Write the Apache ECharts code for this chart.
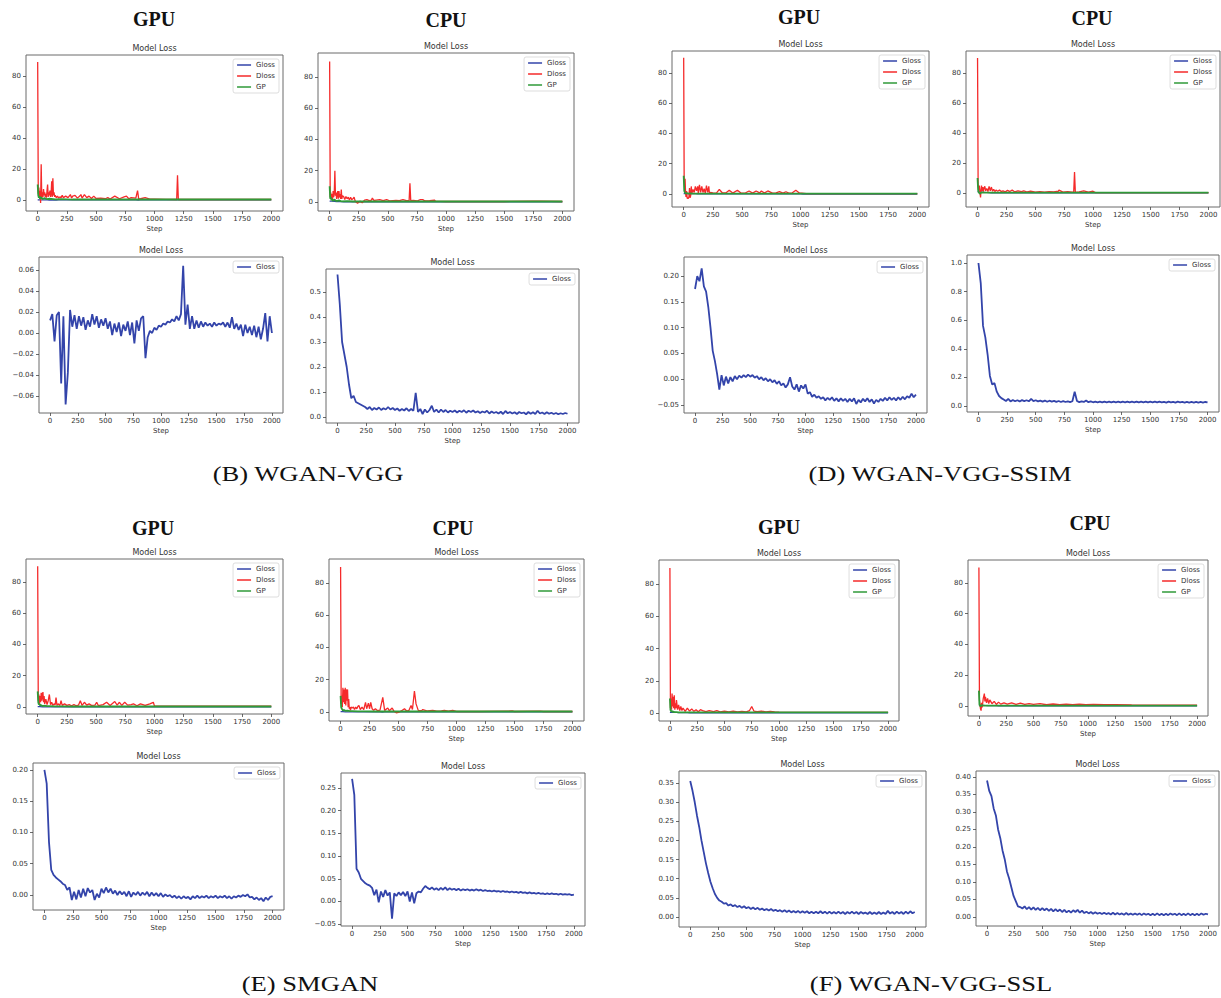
<!DOCTYPE html>
<html><head><meta charset="utf-8">
<script src="https://cdn.jsdelivr.net/npm/echarts@6/dist/echarts.min.js"></script>
<style>html,body{margin:0;padding:0;background:#fff;}#c{width:1221px;height:998px;}</style>
</head><body><div id="c"></div>
<script>
// ---------------- DATA ----------------
const panelLabels = ['(B) WGAN-VGG', '(D) WGAN-VGG-SSIM', '(E) SMGAN', '(F) WGAN-VGG-SSL'];
const deviceNames = ['GPU', 'CPU'];
const plotTitle = 'Model Loss';
const xAxisName = 'Step';
const seriesNames = ['Gloss', 'Dloss', 'GP'];
const xTickValues = [0, 250, 500, 750, 1000, 1250, 1500, 1750, 2000];
const yTicksTop = [0, 20, 40, 60, 80];
const yTicksB_GPU = [-0.06, -0.04, -0.02, 0, 0.02, 0.04, 0.06];
const yTicksB_CPU = [0, 0.1, 0.2, 0.3, 0.4, 0.5];
const yTicksD_GPU = [-0.05, 0, 0.05, 0.1, 0.15, 0.2];
const yTicksD_CPU = [0, 0.2, 0.4, 0.6, 0.8, 1.0];
const yTicksE_GPU = [0, 0.05, 0.1, 0.15, 0.2];
const yTicksE_CPU = [-0.05, 0, 0.05, 0.1, 0.15, 0.2, 0.25];
const yTicksF_GPU = [0, 0.05, 0.1, 0.15, 0.2, 0.25, 0.3, 0.35];
const yTicksF_CPU = [0, 0.05, 0.1, 0.15, 0.2, 0.25, 0.3, 0.35, 0.4];

// Gloss (generator loss) sampled every 20 steps
const glossSteps = [
0,20,40,60,80,100,120,140,160,180,
200,220,240,260,280,300,320,340,360,380,
400,420,440,460,480,500,520,540,560,580,
600,620,640,660,680,700,720,740,760,780,
800,820,840,860,880,900,920,940,960,980,
1000,1020,1040,1060,1080,1100,1120,1140,1160,1180,
1200,1220,1240,1260,1280,1300,1320,1340,1360,1380,
1400,1420,1440,1460,1480,1500,1520,1540,1560,1580,
1600,1620,1640,1660,1680,1700,1720,1740,1760,1780,
1800,1820,1840,1860,1880,1900,1920,1940,1960,1980,
2000];

const glossB_GPU = [
0.012,0.018,-0.008,0.017,0.02,-0.048,0.016,-0.068,-0.038,0.022,
0.006,0.017,0.004,0.016,0.007,0.015,0.003,0.012,0.006,0.018,
0.008,0.016,0.005,0.013,0.007,0.014,0.004,0.011,-0.002,0.009,
0.001,0.01,-0.003,0.008,0.002,0.011,-0.002,0.01,-0.01,0.012,
0.002,0.014,0.016,-0.024,-0.004,0.002,0.0,0.005,0.003,0.007,
0.006,0.009,0.008,0.011,0.01,0.013,0.011,0.016,0.012,0.018,
0.064,0.008,0.027,0.004,0.016,0.004,0.012,0.005,0.011,0.006,
0.01,0.007,0.009,0.006,0.01,0.007,0.009,0.008,0.01,0.006,
0.01,0.005,0.015,0.004,0.009,0.003,0.008,-0.003,0.008,0.0,
0.006,-0.002,0.007,-0.004,0.006,-0.006,0.004,0.019,-0.008,0.016,
0.0];

const glossB_CPU = [
0.57,0.45,0.3,0.25,0.2,0.13,0.075,0.085,0.06,0.055,
0.05,0.045,0.04,0.032,0.04,0.028,0.036,0.03,0.038,0.028,
0.035,0.03,0.04,0.03,0.036,0.028,0.034,0.025,0.032,0.026,
0.035,0.024,0.032,0.025,0.097,0.02,0.032,0.012,0.03,0.018,
0.028,0.045,0.02,0.03,0.018,0.03,0.02,0.028,0.018,0.025,
0.02,0.026,0.018,0.025,0.02,0.027,0.017,0.025,0.02,0.026,
0.018,0.023,0.016,0.022,0.018,0.025,0.014,0.022,0.016,0.02,
0.014,0.021,0.012,0.024,0.015,0.02,0.014,0.019,0.012,0.02,
0.015,0.018,0.011,0.02,0.013,0.019,0.012,0.025,0.014,0.018,
0.012,0.019,0.013,0.017,0.012,0.016,0.011,0.015,0.012,0.016,
0.013];

const glossD_GPU = [
0.175,0.2,0.19,0.215,0.18,0.17,0.14,0.1,0.055,0.035,
0.01,-0.02,0.008,-0.012,0.005,-0.008,0.004,-0.004,0.006,0.0,
0.007,0.003,0.008,0.004,0.009,0.005,0.008,0.003,0.006,0.0,
0.004,-0.002,0.002,-0.004,0.0,-0.006,-0.002,-0.009,-0.004,-0.012,
-0.008,-0.016,-0.01,0.004,-0.014,-0.02,-0.01,-0.024,-0.012,-0.018,
-0.01,-0.028,-0.025,-0.034,-0.03,-0.036,-0.033,-0.038,-0.035,-0.041,
-0.036,-0.04,-0.035,-0.042,-0.037,-0.043,-0.037,-0.042,-0.038,-0.044,
-0.038,-0.043,-0.037,-0.048,-0.04,-0.045,-0.038,-0.043,-0.037,-0.044,
-0.039,-0.047,-0.04,-0.044,-0.038,-0.042,-0.036,-0.041,-0.035,-0.04,
-0.036,-0.041,-0.035,-0.04,-0.034,-0.039,-0.033,-0.036,-0.028,-0.035,
-0.03];

const glossD_CPU = [
1.0,0.86,0.56,0.48,0.36,0.21,0.15,0.16,0.1,0.07,
0.055,0.045,0.035,0.05,0.032,0.042,0.033,0.04,0.032,0.041,
0.034,0.04,0.033,0.05,0.034,0.04,0.032,0.038,0.031,0.038,
0.03,0.037,0.031,0.036,0.029,0.035,0.028,0.034,0.028,0.033,
0.027,0.033,0.1,0.035,0.027,0.032,0.028,0.038,0.027,0.032,
0.026,0.031,0.026,0.03,0.025,0.031,0.026,0.03,0.025,0.031,
0.026,0.03,0.025,0.03,0.026,0.031,0.025,0.03,0.026,0.031,
0.025,0.03,0.026,0.031,0.025,0.03,0.026,0.031,0.025,0.03,
0.025,0.029,0.024,0.03,0.025,0.029,0.024,0.03,0.025,0.029,
0.024,0.029,0.024,0.028,0.024,0.029,0.024,0.028,0.024,0.028,
0.025];

const glossE_GPU = [
0.2,0.178,0.085,0.04,0.032,0.028,0.025,0.022,0.018,0.016,
0.008,0.012,-0.008,0.005,-0.007,0.008,-0.004,0.01,-0.002,0.011,
0.004,0.008,-0.008,0.002,-0.004,0.01,0.003,0.012,0.004,0.01,
0.002,0.007,0.0,0.006,0.001,0.005,-0.002,0.006,-0.003,0.004,
0.0,0.005,-0.001,0.004,0.0,0.005,-0.002,0.004,-0.001,0.003,
-0.002,0.003,-0.003,0.001,-0.002,0.0,-0.004,-0.001,-0.005,-0.002,
-0.006,-0.002,-0.005,-0.003,-0.007,-0.002,-0.005,-0.001,-0.005,-0.002,
-0.004,-0.001,-0.005,-0.002,-0.004,-0.001,-0.005,-0.002,-0.004,-0.001,
-0.005,-0.002,-0.006,-0.002,-0.004,-0.001,-0.003,0.0,-0.002,0.001,
-0.004,-0.003,-0.007,-0.004,-0.008,-0.005,-0.01,-0.004,-0.008,-0.003,
-0.002];

const glossE_CPU = [
0.27,0.235,0.072,0.064,0.05,0.045,0.04,0.037,0.035,0.03,
0.014,0.026,-0.002,0.022,0.01,0.025,0.013,0.02,-0.038,0.018,
0.012,0.02,0.014,0.021,0.012,0.022,0.0,0.02,-0.004,0.018,
0.022,0.02,0.028,0.034,0.03,0.027,0.031,0.026,0.029,0.025,
0.03,0.026,0.031,0.025,0.029,0.026,0.028,0.025,0.028,0.024,
0.027,0.025,0.027,0.024,0.026,0.024,0.027,0.024,0.026,0.023,
0.025,0.023,0.024,0.022,0.024,0.022,0.023,0.021,0.023,0.021,
0.022,0.02,0.022,0.02,0.021,0.019,0.021,0.019,0.02,0.018,
0.02,0.018,0.019,0.017,0.019,0.017,0.018,0.016,0.018,0.016,
0.018,0.016,0.017,0.015,0.017,0.015,0.016,0.015,0.016,0.014,
0.015];

const glossF_GPU = [
0.355,0.33,0.3,0.265,0.235,0.2,0.17,0.14,0.115,0.092,
0.075,0.06,0.05,0.043,0.04,0.035,0.036,0.03,0.033,0.028,
0.031,0.026,0.029,0.024,0.028,0.023,0.026,0.021,0.025,0.02,
0.024,0.019,0.022,0.018,0.021,0.017,0.021,0.016,0.019,0.015,
0.018,0.014,0.018,0.013,0.017,0.012,0.016,0.012,0.016,0.011,
0.015,0.011,0.015,0.01,0.014,0.01,0.014,0.01,0.015,0.01,
0.014,0.009,0.014,0.009,0.013,0.009,0.014,0.009,0.013,0.008,
0.013,0.009,0.014,0.009,0.013,0.008,0.013,0.009,0.012,0.008,
0.013,0.008,0.012,0.008,0.013,0.008,0.012,0.008,0.016,0.009,
0.013,0.008,0.014,0.009,0.013,0.008,0.014,0.009,0.015,0.01,
0.013];

const glossF_CPU = [
0.39,0.36,0.345,0.31,0.29,0.25,0.225,0.19,0.165,0.13,
0.11,0.085,0.06,0.045,0.03,0.028,0.024,0.03,0.022,0.028,
0.021,0.027,0.02,0.026,0.019,0.025,0.019,0.024,0.017,0.023,
0.016,0.022,0.016,0.021,0.014,0.02,0.013,0.018,0.012,0.019,
0.014,0.02,0.012,0.018,0.011,0.015,0.01,0.014,0.009,0.013,
0.009,0.012,0.008,0.012,0.008,0.011,0.007,0.012,0.007,0.011,
0.007,0.01,0.006,0.011,0.006,0.01,0.006,0.01,0.006,0.01,
0.005,0.01,0.006,0.009,0.005,0.009,0.005,0.01,0.005,0.009,
0.005,0.009,0.005,0.01,0.006,0.009,0.005,0.01,0.005,0.009,
0.005,0.01,0.005,0.009,0.005,0.009,0.005,0.01,0.006,0.009,
0.007];

// Dloss (discriminator loss): steps and values per plot
const dStepsB_GPU = [
0,5,10,15,20,25,30,35,40,45,
50,55,60,65,70,75,80,85,90,95,
100,105,110,115,120,125,130,135,140,145,
150,160,170,180,190,200,210,220,240,260,
280,290,300,320,340,360,370,380,400,420,
440,460,480,500,540,580,600,620,660,700,
740,760,780,800,840,855,865,880,920,960,
1000,1100,1190,1197,1204,1300,1500,1750,1900,2000];
const dlossB_GPU = [
89,4,8,2,6,-2,23,1,5,2,
7,3,5,2,4,1.5,6,10,2,5,
3,6,2,4,12,2,14,3,5,2,
3,1.5,2.5,1.2,2,1.5,3,1.5,2.5,1.5,
3.5,1.2,2.5,3,1.2,2.5,3.5,1.2,3.5,1.5,
2.5,1,2.5,1,1.2,0.8,1.5,0.6,2.5,0.8,
2,2.5,0.8,1.5,1.2,6,0.6,0.8,1.5,0.5,
0.5,0.4,0.3,16,0.3,0.3,0.3,0.3,0.3,0.3];

const dStepsB_CPU = [
0,5,10,15,20,25,30,35,40,45,
50,55,60,65,70,75,80,85,90,95,
100,105,110,120,130,140,150,160,170,180,
190,200,210,220,240,260,280,300,320,340,
360,367,380,400,430,460,490,520,570,600,
630,660,683,690,697,720,750,780,800,820,
860,900,910,950,1000,1200,1500,1750,1800,2000];
const dlossB_CPU = [
90,3,6,2,5,1,7,3,6,20,
4,6,2,5,7,2,7,3,5,2,
8,2,4,3.5,1.5,3.5,2,3,1.2,3,
1.5,2,3,0.5,-0.8,0.5,-0.5,1.2,1.5,0.8,
1.2,2.5,1,1.2,1.5,0.8,1.5,0.6,1,0.8,
1.5,0.8,0.8,12,0.8,1,0.6,1.5,1.5,0.6,
0.8,1.2,0.5,0.4,0.3,0.3,0.3,0.5,0.5,0.3];

const dStepsD_GPU = [
0,4,8,12,16,20,25,30,35,40,
45,50,55,60,65,70,80,90,100,110,
120,125,135,145,155,165,175,185,195,205,
215,220,230,250,280,305,330,360,390,420,
460,490,530,560,590,620,650,665,690,720,
760,790,820,850,875,900,930,960,990,1050,
1200,1500,1800,2000];
const dlossD_GPU = [
90,12,3,10,1,-2,2,-3,-2.5,-3,
-2,4,-2.5,-1,5,0.5,3,1,5,2,
5,0.5,6,1,5,1,3.5,0.5,5.5,1,
5,0.6,1,0.8,0.6,3,0.8,0.7,2.5,0.6,
2.5,0.6,0.8,2,0.6,2,0.7,2,0.6,2,
0.6,0.8,1.5,0.6,1.5,0.6,0.8,2.5,0.7,0.3,
0.3,0.3,0.3,0.3];

const dStepsD_CPU = [
0,5,10,15,20,26,30,34,40,45,
50,55,63,70,80,90,100,110,120,130,
140,150,160,175,190,205,220,240,260,280,
300,320,350,380,400,430,460,500,540,580,
620,660,700,705,740,780,820,833,840,847,
880,920,960,1000,1020,1100,1400,1700,2000];
const dlossD_CPU = [
90,6,2,5,1,-3,2,5,1.5,4,
1,3,4.5,1.5,3,1,4.5,1.5,4,1.2,
2.5,1,2,1.2,2,1,1.5,0.8,1.8,1,
2,0.8,1.5,1,1.5,0.7,1.2,0.6,1,0.6,
1,0.8,1.2,2,0.6,1,0.6,0.6,14,0.5,
0.8,1.5,0.6,1.2,0.3,0.3,0.3,0.3,0.3];

const dStepsE_GPU = [
0,5,10,15,20,25,30,35,40,45,
50,55,60,70,80,90,100,110,120,130,
140,150,157,165,175,190,200,210,230,250,
270,290,310,330,350,365,380,400,420,440,
460,490,505,520,560,590,620,660,680,700,
720,745,770,800,820,850,880,920,960,990,
1000,1100,1300,1500,1700,1800,2000];
const dlossE_GPU = [
90,4,8,2,7,3,9,4,8,9.5,
3,7,2,5,1.5,4,8,1.5,3,1,
2,1.5,6,1,2,1,4,1,2,1,
1.5,0.8,1.5,0.8,1.2,4,1,3,1.2,2,
1,1.2,3,0.8,1.5,3,1,3.5,1.2,3,
1,3,1.2,1.5,2,0.8,2,1,2,3,
0.5,0.5,0.5,0.5,0.6,0.5,0.5];

const dStepsE_CPU = [
0,5,10,15,20,25,30,35,40,45,
50,55,60,65,70,75,80,85,90,100,
110,120,130,140,150,158,170,185,200,215,
225,240,250,260,272,285,300,320,340,364,
380,407,420,445,460,480,500,520,551,570,
590,608,620,637,651,670,700,709,750,795,
830,870,895,930,967,1000,1200,1480,1500,1720,
1750,2000];
const dlossE_CPU = [
90,5,10,3,15,6,14,5,15,4,
14,7,14,3,8,2,3,1,3,2.5,
3,1.5,3,2,3.5,4,1.5,3,1.5,6,
2,5.5,2,6,2,1,2,0.8,1.2,9,
1,2.5,0.8,2.5,0.5,-0.5,-0.3,0.5,2,0.6,
1,4,1.5,13,5,1,0.8,1.5,0.6,1,
0.5,0.6,1,0.5,1,0.3,0.3,0.6,0.3,0.5,
0.3,0.3];

const dStepsF_GPU = [
0,5,10,15,20,25,30,35,40,45,
50,55,60,70,80,90,100,110,120,140,
160,180,200,220,240,260,280,300,330,360,
400,430,460,500,540,580,620,660,700,730,
750,770,800,840,880,920,960,1000,1200,1500,
1800,2000];
const dlossF_GPU = [
90,3,9,2,12,4,10,3,11,2,
6,3,8,2,5,1.5,4,1.5,3,1,
3,1.2,2.5,1,2,0.8,2,1.5,0.8,1.5,
0.8,1.5,0.7,1.2,0.7,1.2,0.6,1,0.7,1.5,
4,1.2,0.8,1.2,0.6,1,0.6,0.5,0.4,0.4,
0.4,0.4];

const dStepsF_CPU = [
0,5,10,15,20,25,30,40,50,55,
60,70,80,90,100,120,140,160,180,200,
230,260,300,340,380,420,460,500,560,620,
680,740,800,860,920,980,1050,1150,1250,1400,
1600,1800,2000];
const dlossF_CPU = [
90,4,1,-2,-3,2,-1,5,8,3,
6,2,5,1.5,4,1.5,3,1,2.5,1.2,
2,1.2,2,1,1.8,1,1.5,1,1.5,0.8,
1.3,0.8,1.2,0.8,1.2,0.8,1,0.8,0.9,0.7,
0.6,0.6,0.6];

// GP (gradient penalty)
const gpSteps = [0,5,10,15,20,30,40,60,80,100,150,200,300,500,750,1000,1250,1500,1750,2000];
const gpB_GPU = [10,3,1.5,2.5,0.8,1.8,0.6,1.2,0.5,0.8,0.4,0.5,0.3,0.3,0.3,0.3,0.3,0.3,0.3,0.3];
const gpB_CPU = [10,2,3,1,2,0.6,1.5,0.5,1,0.4,0.5,0.3,0.3,0.3,0.3,0.3,0.3,0.3,0.3,0.3];
const gpD_GPU = [12,2,1,0.5,0.3,0.5,0.3,0.4,0.3,0.3,0.3,0.3,0.3,0.3,0.3,0.3,0.3,0.3,0.3,0.3];
const gpD_CPU = [10,2,0.5,0.3,-0.5,0.3,0.4,0.3,0.3,0.3,0.3,0.3,0.3,0.3,0.3,0.3,0.3,0.3,0.3,0.3];
const gpE_GPU = [10,3,1.5,2,1,1.2,0.6,0.8,0.5,0.5,0.4,0.4,0.3,0.3,0.3,0.3,0.3,0.3,0.3,0.3];
const gpE_CPU = [10,3,2,1.5,1,1.2,0.7,0.8,0.5,0.5,0.4,0.4,0.3,0.3,0.3,0.3,0.3,0.3,0.3,0.3];
const gpF_GPU = [9,2,1,1.5,0.6,0.8,0.5,0.5,0.4,0.4,0.3,0.3,0.3,0.3,0.3,0.3,0.3,0.3,0.3,0.3];
const gpF_CPU = [10,1,0.4,-0.5,0.3,0.5,0.3,0.3,0.3,0.3,0.3,0.3,0.3,0.3,0.3,0.3,0.3,0.3,0.3,0.3];

// ---------------- LAYOUT ----------------
const W = 1221;
const plots = [
 {box:[26,55,257,156],  y:[-7.1,93.5],  kind:'top', gloss:glossB_GPU, dS:dStepsB_GPU, dV:dlossB_GPU, gp:gpB_GPU},
 {box:[39,257,244,156], y:[-0.0762,0.0724], kind:'bot', gloss:glossB_GPU, ticks:yTicksB_GPU, dig:2},
 {box:[318,53,256,158], y:[-5.8,95.4],  kind:'top', gloss:glossB_CPU, dS:dStepsB_CPU, dV:dlossB_CPU, gp:gpB_CPU},
 {box:[326,269,253,154], y:[-0.024,0.592], kind:'bot', gloss:glossB_CPU, ticks:yTicksB_CPU, dig:1},
 {box:[672,51,257,156], y:[-8.6,94.5],  kind:'top', gloss:glossD_GPU, dS:dStepsD_GPU, dV:dlossD_GPU, gp:gpD_GPU},
 {box:[684,257,243,156], y:[-0.0655,0.237], kind:'bot', gloss:glossD_GPU, ticks:yTicksD_GPU, dig:2},
 {box:[966,51,254,156], y:[-9.3,94.7],  kind:'top', gloss:glossD_CPU, dS:dStepsD_CPU, dV:dlossD_CPU, gp:gpD_CPU},
 {box:[967,255,252,157], y:[-0.042,1.056], kind:'bot', gloss:glossD_CPU, ticks:yTicksD_CPU, dig:1},
 {box:[26,559,257,155], y:[-4.5,94.7],  kind:'top', gloss:glossE_GPU, dS:dStepsE_GPU, dV:dlossE_GPU, gp:gpE_GPU},
 {box:[33,763,251,147], y:[-0.024,0.211], kind:'bot', gloss:glossE_GPU, ticks:yTicksE_GPU, dig:2},
 {box:[329,559,255,162], y:[-5.6,94.9], kind:'top', gloss:glossE_CPU, dS:dStepsE_CPU, dV:dlossE_CPU, gp:gpE_CPU},
 {box:[341,773,244,153], y:[-0.054,0.283], kind:'bot', gloss:glossE_CPU, ticks:yTicksE_CPU, dig:2},
 {box:[659,560,240,161], y:[-5,95],     kind:'top', gloss:glossF_GPU, dS:dStepsF_GPU, dV:dlossF_GPU, gp:gpF_GPU},
 {box:[679,771,247,156], y:[-0.026,0.381], kind:'bot', gloss:glossF_GPU, ticks:yTicksF_GPU, dig:2},
 {box:[968,560,240,156], y:[-6.5,94.8], kind:'top', gloss:glossF_CPU, dS:dStepsF_CPU, dV:dlossF_CPU, gp:gpF_CPU},
 {box:[976,771,243,155], y:[-0.026,0.417], kind:'bot', gloss:glossF_CPU, ticks:yTicksF_CPU, dig:2}
];
const headers = [
 [0,154,19],[1,446,20],[0,799,17],[1,1092,18],
 [0,153,528],[1,453,528],[0,779,527],[1,1090,523]
];
const labelPos = [[308,474],[940,474],[310,984],[931,984]];

const SANS = '"DejaVu Sans", sans-serif';
const SERIF = '"Liberation Serif", "Times New Roman", serif';
const C_G = '#3344aa', C_D = '#f52a2a', C_P = '#2f9a38';

function zip(xs, ys){ const n = Math.min(xs.length, ys.length); const out=[]; for(let i=0;i<n;i++) out.push([xs[i], ys[i]]); return out; }
function fmt(v, d){ const s = Math.abs(v).toFixed(d); return (v < -1e-12 ? '\u2212' : '') + s; }

const grids=[], xAxes=[], yAxes=[], series=[], legends=[], graphics=[];
plots.forEach((p, i) => {
  const [l,t,w,h] = p.box;
  grids.push({left:l, top:t, width:w, height:h, show:true, borderColor:'#6a6a6a', borderWidth:1, backgroundColor:'#fff'});
  xAxes.push({type:'value', gridIndex:i, min:-100, max:2100, position:'bottom',
    name:xAxisName, nameLocation:'middle', nameGap:14,
    nameTextStyle:{fontSize:7, color:'#333', fontFamily:SANS},
    axisLine:{show:false, onZero:false}, splitLine:{show:false},
    axisTick:{show:true, length:3, lineStyle:{color:'#444', width:0.8}, customValues:xTickValues},
    axisLabel:{fontSize:7, color:'#333', fontFamily:SANS, margin:4, customValues:xTickValues, formatter:v=>String(v)}});
  const yt = p.kind === 'top' ? yTicksTop : p.ticks;
  const dig = p.kind === 'top' ? 0 : p.dig;
  yAxes.push({type:'value', gridIndex:i, min:p.y[0], max:p.y[1], position:'left',
    axisLine:{show:false, onZero:false}, splitLine:{show:false},
    axisTick:{show:true, length:3, lineStyle:{color:'#444', width:0.8}, customValues:yt},
    axisLabel:{fontSize:7, color:'#333', fontFamily:SANS, margin:5, customValues:yt, formatter:v=>fmt(v, dig)}});
  series.push({type:'line', name:seriesNames[0], xAxisIndex:i, yAxisIndex:i, data:zip(glossSteps, p.gloss),
    showSymbol:false, symbol:'none', lineStyle:{color:C_G, width:p.kind==='top'?1.2:1.8}, itemStyle:{color:C_G}, animation:false});
  if (p.kind === 'top') {
    series.push({type:'line', name:seriesNames[1], xAxisIndex:i, yAxisIndex:i, data:zip(p.dS, p.dV),
      showSymbol:false, symbol:'none', lineStyle:{color:C_D, width:1.3}, itemStyle:{color:C_D}, animation:false});
    series.push({type:'line', name:seriesNames[2], xAxisIndex:i, yAxisIndex:i, data:zip(gpSteps, p.gp),
      showSymbol:false, symbol:'none', lineStyle:{color:C_P, width:1.8}, itemStyle:{color:C_P}, animation:false});
  }
  legends.push({data: p.kind==='top' ? seriesNames.slice() : [seriesNames[0]],
    orient:'vertical', right: W-(l+w)+4, top: t+4, icon:'rect', itemWidth:14, itemHeight:1.5, itemGap:3,
    padding:[2,4,2,4], backgroundColor:'#fff', borderColor:'#d4d4d4', borderWidth:0.8, borderRadius:2,
    selectedMode:false, textStyle:{fontSize:7, color:'#333', fontFamily:SANS, lineHeight:8}});
  graphics.push({type:'text', x:l+w/2, y:t-7, silent:true,
    style:{text:plotTitle, fontSize:8, fontFamily:SANS, fill:'#333', align:'center', verticalAlign:'middle'}});
});
headers.forEach(hd => {
  graphics.push({type:'text', x:hd[1], y:hd[2], silent:true,
    style:{text:deviceNames[hd[0]], fontSize:20, fontWeight:'bold', fontFamily:SERIF, fill:'#111', align:'center', verticalAlign:'middle'}});
});
panelLabels.forEach((s, k) => {
  graphics.push({type:'text', x:labelPos[k][0], y:labelPos[k][1], scaleX:1.33, silent:true,
    style:{text:s, fontSize:20, fontFamily:SERIF, fill:'#111', align:'center', verticalAlign:'middle'}});
});

const chart = echarts.init(document.getElementById('c'), null, {renderer:'svg', width:1221, height:998});
chart.setOption({
  animation:false,
  backgroundColor:'#fff',
  grid:grids, xAxis:xAxes, yAxis:yAxes, series:series, legend:legends,
  graphic:{elements:graphics}
});
</script>
</body></html>
